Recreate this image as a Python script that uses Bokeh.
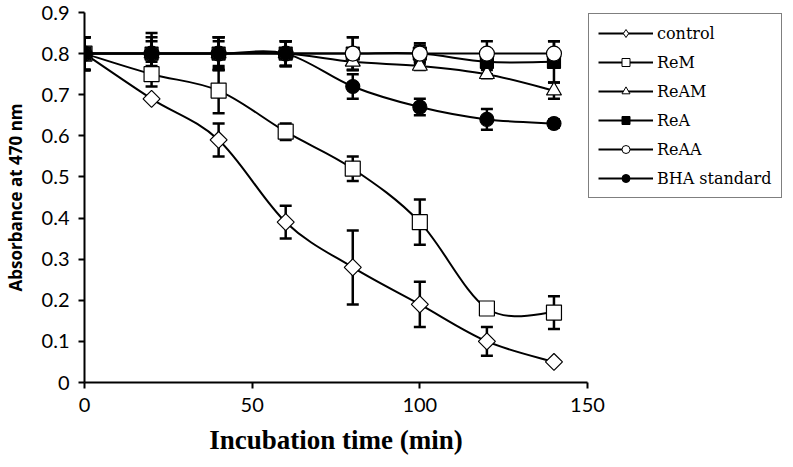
from bokeh.plotting import figure
from bokeh.models import (ColumnDataSource, Whisker, TeeHead, Legend, LegendItem,
                          FixedTicker, NumeralTickFormatter, Range1d)
from bokeh.embed import file_html
from bokeh.resources import INLINE

# ---------------- data ----------------
time = [0, 20, 40, 60, 80, 100, 120, 140]

control = [0.80, 0.69, 0.59, 0.39, 0.28, 0.19, 0.10, 0.05]
control_err = [0.04, 0.0, 0.04, 0.04, 0.09, 0.055, 0.035, 0.0]

rem = [0.80, 0.75, 0.71, 0.61, 0.52, 0.39, 0.18, 0.17]
rem_err = [0.04, 0.03, 0.055, 0.02, 0.03, 0.055, 0.0, 0.04]

ream = [0.80, 0.80, 0.80, 0.80, 0.78, 0.77, 0.75, 0.71]
ream_err = [0.04, 0.01, 0.04, 0.03, 0.02, 0.01, 0.01, 0.02]

rea = [0.80, 0.80, 0.80, 0.80, 0.80, 0.80, 0.78, 0.78]
rea_err = [0.04, 0.05, 0.04, 0.03, 0.04, 0.02, 0.03, 0.05]

reaa = [0.80, 0.80, 0.80, 0.80, 0.80, 0.80, 0.80, 0.80]
reaa_err = [0.04, 0.04, 0.03, 0.03, 0.04, 0.025, 0.03, 0.03]

bha = [0.80, 0.80, 0.80, 0.80, 0.72, 0.67, 0.64, 0.63]
bha_err = [0.04, 0.03, 0.04, 0.03, 0.03, 0.02, 0.025, 0.01]

series_names = ["control", "ReM", "ReAM", "ReA", "ReAA", "BHA standard"]
x_ticks = [0, 50, 100, 150]
y_ticks = [0, 0.1, 0.2, 0.3, 0.4, 0.5, 0.6, 0.7, 0.8, 0.9]

# ---------------- figure ----------------
p = figure(frame_width=503, frame_height=370, output_backend="svg",
           toolbar_location=None, x_range=Range1d(0, 150), y_range=Range1d(0, 0.9),
           min_border_left=80, min_border_top=12, min_border_bottom=78, min_border_right=0)
p.background_fill_color = "white"
p.border_fill_color = "white"
p.outline_line_color = None
p.xgrid.visible = False
p.ygrid.visible = False

for ax in (p.xaxis[0], p.yaxis[0]):
    ax.axis_line_width = 2
    ax.axis_line_color = "black"
    ax.major_tick_line_width = 2
    ax.major_tick_line_color = "black"
    ax.major_tick_out = 6
    ax.major_tick_in = 0
    ax.minor_tick_line_color = None
    ax.major_label_text_font = "Lato"
    ax.major_label_text_font_size = "20px"
    ax.major_label_text_color = "black"
    ax.major_label_standoff = 9
    ax.axis_label_text_color = "black"

p.xaxis.ticker = FixedTicker(ticks=x_ticks)
p.yaxis.ticker = FixedTicker(ticks=y_ticks)
p.yaxis.formatter = NumeralTickFormatter(format="0.[0]")

p.xaxis.axis_label = "Incubation time (min)"
p.xaxis.axis_label_text_font = "Liberation Serif"
p.xaxis.axis_label_text_font_style = "bold"
p.xaxis.axis_label_text_font_size = "27px"
p.xaxis.axis_label_standoff = 10

p.yaxis.axis_label = "Absorbance at 470 nm"
p.yaxis.axis_label_text_font = "Open Sans"
p.yaxis.axis_label_text_font_style = "bold"
p.yaxis.axis_label_text_font_size = "17px"
p.yaxis.axis_label_standoff = 12


def smooth_segments(xs, ys):
    n = len(xs)
    out = dict(x0=[], y0=[], x1=[], y1=[], cx0=[], cy0=[], cx1=[], cy1=[])
    for i in range(n - 1):
        im1 = i - 1 if i > 0 else i
        ip2 = i + 2 if i + 2 < n else i + 1
        out["x0"].append(xs[i]); out["y0"].append(ys[i])
        out["x1"].append(xs[i + 1]); out["y1"].append(ys[i + 1])
        out["cx0"].append(xs[i] + (xs[i + 1] - xs[im1]) / 6)
        out["cy0"].append(ys[i] + (ys[i + 1] - ys[im1]) / 6)
        out["cx1"].append(xs[i + 1] - (xs[ip2] - xs[i]) / 6)
        out["cy1"].append(ys[i + 1] - (ys[ip2] - ys[i]) / 6)
    return out


styles = [
    dict(marker="square", angle=0.785398, size=12, fill_color="white", legend_marker="diamond"),
    dict(marker="square", angle=0, size=15, fill_color="white", legend_marker="square"),
    dict(marker="triangle", angle=0, size=15, fill_color="white", legend_marker="triangle"),
    dict(marker="square", angle=0, size=13, fill_color="black", legend_marker="square"),
    dict(marker="circle", angle=0, size=15, fill_color="white", legend_marker="circle"),
    dict(marker="circle", angle=0, size=14, fill_color="black", legend_marker="circle"),
]

all_vals = [control, rem, ream, rea, reaa, bha]
all_errs = [control_err, rem_err, ream_err, rea_err, reaa_err, bha_err]

nan = float("nan")
items = []
for name, vals, errs, st in zip(series_names, all_vals, all_errs, styles):
    src = ColumnDataSource(dict(x=time, y=vals,
                                upper=[v + e for v, e in zip(vals, errs)],
                                lower=[v - e for v, e in zip(vals, errs)]))
    w = Whisker(base="x", upper="upper", lower="lower", source=src,
                line_color="black", line_width=2.5,
                upper_head=TeeHead(size=12, line_width=2.5, line_color="black"),
                lower_head=TeeHead(size=12, line_width=2.5, line_color="black"))
    p.add_layout(w)
    seg = ColumnDataSource(smooth_segments(time, vals))
    p.bezier(x0="x0", y0="y0", x1="x1", y1="y1", cx0="cx0", cy0="cy0",
             cx1="cx1", cy1="cy1", source=seg, line_color="black", line_width=2)
    p.scatter(x="x", y="y", source=src, marker=st["marker"], angle=st["angle"],
              size=st["size"], fill_color=st["fill_color"],
              line_color="black", line_width=1.2)
    legend_line = p.line(x=[nan, nan], y=[nan, nan], line_color="black", line_width=2)
    legend_mark = p.scatter(x=[nan], y=[nan], marker=st["legend_marker"], size=10,
                            fill_color=st["fill_color"], line_color="black", line_width=1)
    items.append(LegendItem(label=name, renderers=[legend_line, legend_mark]))

legend = Legend(items=items, location="top_left", border_line_color="black",
                border_line_width=1.5, padding=9, spacing=9, margin=1,
                glyph_width=55, glyph_height=20, label_height=20, label_standoff=4,
                label_text_font="DejaVu Serif", label_text_font_size="16px",
                label_text_color="black", background_fill_alpha=1)
p.add_layout(legend, "right")

open("out.html", "w").write(file_html(p, INLINE))
